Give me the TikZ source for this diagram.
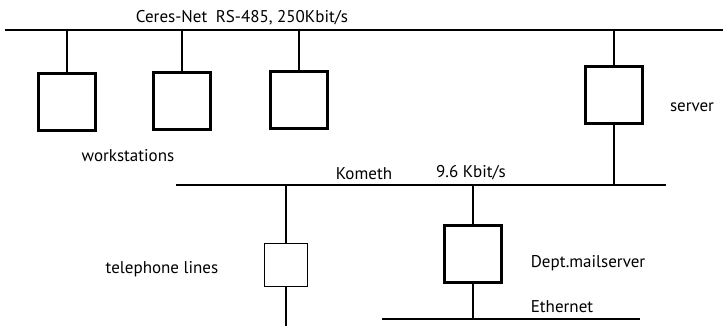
\documentclass[tikz,border=0pt]{standalone}
\usepackage{fontspec}
\setmainfont{PT Sans}
\usepackage{tikz}
\usetikzlibrary{positioning,calc}

\begin{document}
\begin{tikzpicture}[
    x=1pt, y=-1pt,
    font=\fontsize{17}{20}\selectfont,
    bus/.style={line width=1.6pt},
    tap/.style={line width=1.1pt},
    host/.style={draw, line width=3.2pt, minimum width=57pt, minimum height=57pt,
                 inner sep=0pt},
    modem/.style={draw, line width=1.3pt, minimum width=43pt, minimum height=43pt,
                  inner sep=0pt},
    lbl/.style={inner sep=0pt},
    ]
\useasboundingbox (0,0) rectangle (723,326);

% busses
\coordinate (ceresL) at (5,30);
\coordinate (ceresR) at (723,30);
\coordinate (kometL) at (176,185);
\coordinate (kometR) at (666,185);
\coordinate (etherL) at (382,319);
\coordinate (etherR) at (640,319);
\coordinate (telend) at (286,326);

\draw[bus] (ceresL) -- (ceresR);
\draw[bus] (kometL) -- (kometR);
\draw[bus] (etherL) -- (etherR);

% hosts
\node[host] (ws1) at (67,102) {};
\node[host] (ws2) at (182,101) {};
\node[host] (ws3) at (299,100) {};
\node[host] (srv) at (614,95) {};
\node[modem] (tel) at (286,265) {};
\node[host] (mail) at (473,254) {};

% taps
\foreach \h in {ws1,ws2,ws3,srv}
  \draw[tap] (\h.north) -- (\h.north |- ceresL);
\draw[tap] (srv.south) -- (srv.south |- kometL);
\draw[tap] (tel.north) -- (tel.north |- kometL);
\draw[tap] (tel.south) -- (telend);
\draw[tap] (mail.north) -- (mail.north |- kometL);
\draw[tap] (mail.south) -- (mail.south |- etherL);

% labels
\node[lbl] (ceresnet) at (242,18) {Ceres-Net\enspace RS-485, 250Kbit/s};
\node[lbl] (srvname) at (692,107) {server};
\node[lbl] (wsname) at (128,156) {workstations};
\node[lbl] (kometh) at (364,174) {Kometh};
\node[lbl] (kometrate) at (471,173) {9.6 Kbit/s};
\node[lbl] (telname) at (162,269) {telephone lines};
\node[lbl] (mailname) at (588,263) {Dept.mailserver};
\node[lbl] (ethername) at (562,307) {Ethernet};
\end{tikzpicture}
\end{document}
